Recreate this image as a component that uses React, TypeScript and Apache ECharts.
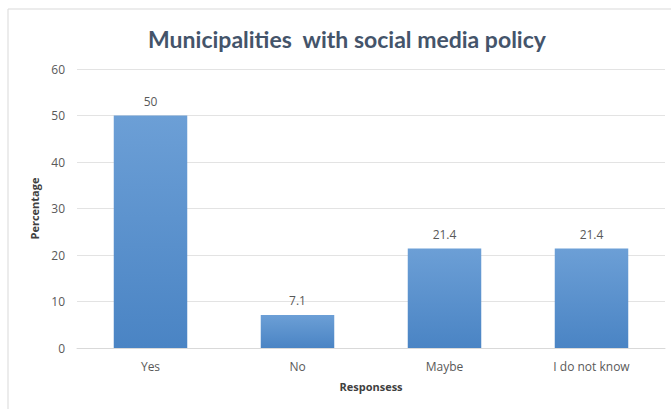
import React, { useEffect, useRef } from "react";
import * as echarts from "echarts";

const categories = ["Yes", "No", "Maybe", "I do not know"];
const values = [50, 7.1, 21.4, 21.4];
const yTicks = [0, 10, 20, 30, 40, 50, 60];

export default function App() {
  const ref = useRef<HTMLDivElement>(null);
  useEffect(() => {
    if (!ref.current) return;
    const chart = echarts.init(ref.current, undefined, { renderer: "svg" });
    chart.setOption({
      animation: false,
      backgroundColor: "#ffffff",
      title: {
        text: "Municipalities  with social media policy",
        left: 342,
        textAlign: "center",
        top: 22,
        textStyle: {
          fontFamily: "Lato",
          fontWeight: "bold",
          fontSize: 23,
          color: "#44546a",
        },
      },
      graphic: [
        {
          type: "rect",
          shape: { x: 8, y: 9, width: 700, height: 440 },
          style: { fill: "none", stroke: "#d9d9d9", lineWidth: 1 },
          silent: true,
        },
      ],
      grid: { left: 77, right: 6, top: 69, bottom: 61, containLabel: false },
      xAxis: {
        type: "category",
        data: categories,
        axisTick: { show: false },
        axisLine: { lineStyle: { color: "#d9d9d9" } },
        axisLabel: { color: "#595959", fontSize: 12, fontFamily: "Open Sans", margin: 12 },
        name: "Responsess",
        nameLocation: "middle",
        nameGap: 33,
        nameTextStyle: { color: "#404040", fontSize: 11, fontWeight: "bold", fontFamily: "Open Sans" },
      },
      yAxis: {
        type: "value",
        min: yTicks[0],
        max: yTicks[yTicks.length - 1],
        interval: 10,
        axisLine: { show: false },
        axisTick: { show: false },
        splitLine: { lineStyle: { color: "#e3e3e3" } },
        axisLabel: { color: "#595959", fontSize: 12, fontFamily: "Open Sans", margin: 12 },
        name: "Percentage",
        nameLocation: "middle",
        nameGap: 36,
        nameTextStyle: { color: "#404040", fontSize: 11, fontWeight: "bold", fontFamily: "Open Sans" },
      },
      series: [
        {
          type: "bar",
          data: values,
          barWidth: "50%",
          itemStyle: {
            color: new echarts.graphic.LinearGradient(0, 0, 0, 1, [
              { offset: 0, color: "#6c9fd6" },
              { offset: 1, color: "#4a84c4" },
            ], false),
          },
          label: {
            show: true,
            position: "top",
            distance: 8,
            color: "#595959",
            fontSize: 12,
            fontFamily: "Open Sans",
          },
        },
      ],
    });
    return () => chart.dispose();
  }, []);
  return (
    <div
      ref={ref}
      style={{ position: "fixed", left: 0, top: 0, width: 671, height: 409 }}
    />
  );
}
